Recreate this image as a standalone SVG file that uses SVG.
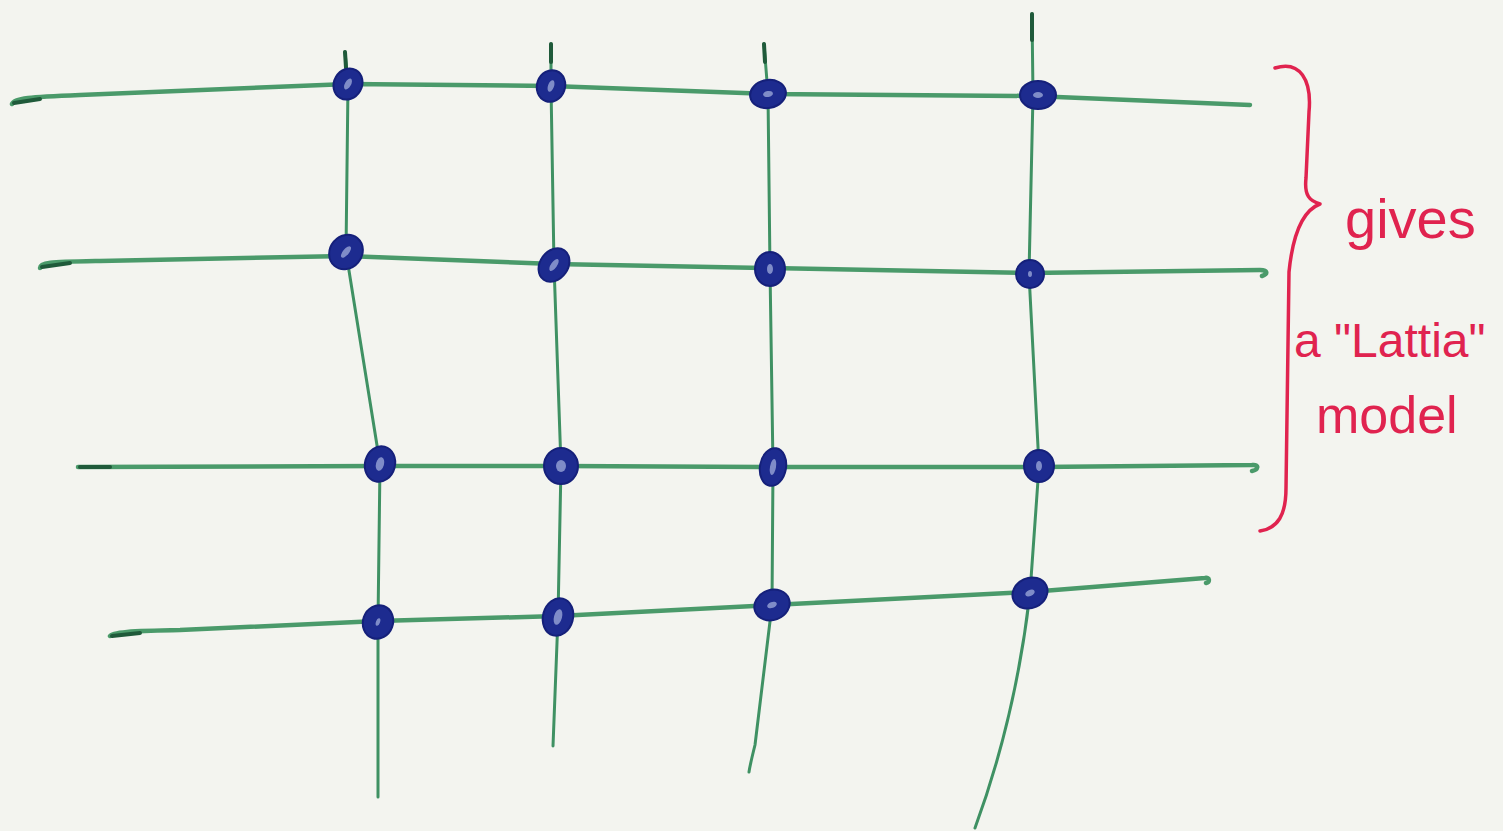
<svg xmlns="http://www.w3.org/2000/svg" width="1503" height="831" viewBox="0 0 1503 831">
<style>
.h{fill:none;stroke:#4a9a6a;stroke-width:4.5;stroke-linecap:round;stroke-linejoin:round}
.v{fill:none;stroke:#3f9163;stroke-width:3;stroke-linecap:round;stroke-linejoin:round}
.end{fill:none;stroke:#1f5a3a;stroke-width:4;stroke-linecap:round}
.n{fill:#1d2b8f;stroke:#15207a;stroke-width:2}
.c{fill:#7f8cc8}
.lbl{font-family:"Liberation Sans","DejaVu Sans",sans-serif;font-size:56px;fill:#e0234f}
.brace{fill:none;stroke:#e0234f;stroke-width:3.5;stroke-linecap:round;stroke-linejoin:round}
</style>
<rect width="1503" height="831" fill="#f3f4ef"/>
<g id="connectors">
<path class="h" d="M12,104 C14,98 30,97 80,95 L348,84 L551,86 L768,94 L1033,96 L1250,105"/>
<path class="h" d="M40,268 C40,262 50,262 100,261 L346,256 L554,264 L770,268 L1029,273 L1260,270 C1268,270 1268,274 1262,276"/>
<path class="h" d="M78,467 L380,466 L561,466 L773,467 L1039,467 L1252,465 C1260,464 1258,470 1252,471"/>
<path class="h" d="M110,636 C112,632 130,631 180,630 L378,621 L558,616 L772,605 L1030,592 L1205,578 C1210,577 1210,582 1206,583"/>
<path class="v" d="M345,52 L348,84 L346,252 L380,464 L378,622 L378,797"/>
<path class="v" d="M551,44 L551,86 L554,265 L561,466 L558,617 L553,746"/>
<path class="v" d="M764,44 L768,94 L770,269 L773,467 L772,605 L755,745 Q750,765 749,772"/>
<path class="v" d="M1032,14 L1033,95 L1029,274 L1039,466 L1030,593 C1020,680 1000,760 975,828"/>
<path class="end" d="M345,52 L346,68"/>
<path class="end" d="M551,44 L551,62"/>
<path class="end" d="M764,44 L765,62"/>
<path class="end" d="M1032,14 L1032,40"/>
<path class="end" d="M14,103 L40,99"/>
<path class="end" d="M42,267 L70,263"/>
<path class="end" d="M80,467 L110,467"/>
<path class="end" d="M112,636 L140,633"/>
</g>
<g id="n11"><ellipse class="n" cx="348" cy="84" rx="14" ry="16" transform="rotate(30 348 84)"/><ellipse class="c" cx="348" cy="84" rx="3" ry="6" transform="rotate(30 348 84)"/></g>
<g id="n12"><ellipse class="n" cx="551" cy="86" rx="14" ry="16" transform="rotate(20 551 86)"/><ellipse class="c" cx="551" cy="86" rx="3" ry="6" transform="rotate(20 551 86)"/></g>
<g id="n13"><ellipse class="n" cx="768" cy="94" rx="18" ry="14" transform="rotate(-10 768 94)"/><ellipse class="c" cx="768" cy="94" rx="5" ry="3" transform="rotate(-10 768 94)"/></g>
<g id="n14"><ellipse class="n" cx="1038" cy="95" rx="18" ry="14"/><ellipse class="c" cx="1038" cy="95" rx="5" ry="3"/></g>
<g id="n21"><ellipse class="n" cx="346" cy="252" rx="16" ry="18" transform="rotate(40 346 252)"/><ellipse class="c" cx="346" cy="252" rx="3" ry="7" transform="rotate(40 346 252)"/></g>
<g id="n22"><ellipse class="n" cx="554" cy="265" rx="14" ry="18" transform="rotate(35 554 265)"/><ellipse class="c" cx="554" cy="265" rx="3" ry="7" transform="rotate(35 554 265)"/></g>
<g id="n23"><ellipse class="n" cx="770" cy="269" rx="15" ry="17"/><ellipse class="c" cx="770" cy="269" rx="3" ry="5"/></g>
<g id="n24"><ellipse class="n" cx="1030" cy="274" rx="14" ry="14"/><ellipse class="c" cx="1030" cy="274" rx="2" ry="3"/></g>
<g id="n31"><ellipse class="n" cx="380" cy="464" rx="15" ry="18" transform="rotate(15 380 464)"/><ellipse class="c" cx="380" cy="464" rx="4" ry="7" transform="rotate(15 380 464)"/></g>
<g id="n32"><ellipse class="n" cx="561" cy="466" rx="17" ry="18"/><ellipse class="c" cx="561" cy="466" rx="5" ry="6"/></g>
<g id="n33"><ellipse class="n" cx="773" cy="467" rx="13" ry="19" transform="rotate(10 773 467)"/><ellipse class="c" cx="773" cy="467" rx="3" ry="8" transform="rotate(10 773 467)"/></g>
<g id="n34"><ellipse class="n" cx="1039" cy="466" rx="15" ry="16"/><ellipse class="c" cx="1039" cy="466" rx="3" ry="5"/></g>
<g id="n41"><ellipse class="n" cx="378" cy="622" rx="15" ry="17" transform="rotate(20 378 622)"/><ellipse class="c" cx="378" cy="622" rx="2" ry="4" transform="rotate(20 378 622)"/></g>
<g id="n42"><ellipse class="n" cx="558" cy="617" rx="15" ry="19" transform="rotate(15 558 617)"/><ellipse class="c" cx="558" cy="617" rx="4" ry="8" transform="rotate(15 558 617)"/></g>
<g id="n43"><ellipse class="n" cx="772" cy="605" rx="18" ry="15" transform="rotate(-20 772 605)"/><ellipse class="c" cx="772" cy="605" rx="5" ry="3" transform="rotate(-20 772 605)"/></g>
<g id="n44"><ellipse class="n" cx="1030" cy="593" rx="18" ry="15" transform="rotate(-25 1030 593)"/><ellipse class="c" cx="1030" cy="593" rx="5" ry="3" transform="rotate(-25 1030 593)"/></g>
<g id="label">
<path class="brace" d="M1275,68 C1300,60 1312,80 1309,112 L1306,178 C1304,196 1310,201 1320,204 C1304,210 1293,232 1289,272 L1286,488 C1286,515 1278,528 1260,531"/>
<text class="lbl" x="1345" y="238">gives</text>
<text class="lbl" x="1294" y="357" style="font-size:48px">a "Lattia"</text>
<text class="lbl" x="1316" y="433" style="font-size:52px">model</text>
</g>
</svg>
